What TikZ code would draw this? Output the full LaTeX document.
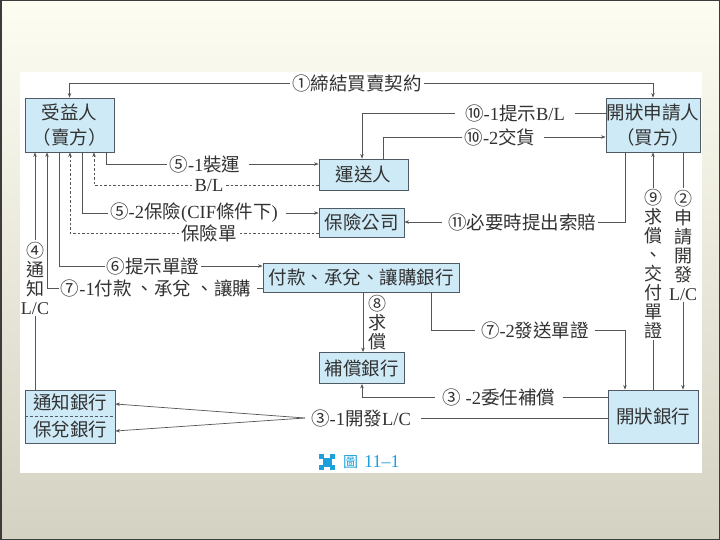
\documentclass[tikz,border=0pt]{standalone}
\usepackage{fontspec}
\setmainfont{Liberation Serif}
\newfontfamily\cjk{Noto Sans CJK TC}
\usetikzlibrary{arrows.meta}
\newcommand\latn[1]{{\rmfamily #1}}
\definecolor{boxfill}{RGB}{206,234,247}
\definecolor{boxline}{RGB}{80,90,100}
\definecolor{lin}{RGB}{85,85,85}
\definecolor{txt}{RGB}{50,50,50}
\definecolor{capblue}{RGB}{30,160,220}
\definecolor{bgtop}{RGB}{253,253,242}
\definecolor{bgmid}{RGB}{238,237,224}
\definecolor{bgbot}{RGB}{212,210,194}
\definecolor{framecol}{RGB}{60,60,60}
\tikzset{
  box/.style={draw=boxline, fill=boxfill, line width=0.8pt, inner sep=0pt, align=center,
    text=txt, font=\cjk\fontsize{18.5}{25}\selectfont},
  lab/.style={inner sep=2pt, text=txt, font=\cjk\fontsize{18.5}{20}\selectfont},
  vlab/.style={inner sep=1.5pt, align=center, text=txt, font=\cjk\fontsize{18}{19}\selectfont},
  conn/.style={draw=lin, line width=0.7pt},
  arr/.style={conn, -{Stealth[length=4.5pt,width=3.5pt]}},
  dsh/.style={dash pattern=on 2.5pt off 2pt},
}
\begin{document}
\begin{tikzpicture}[x=1pt,y=-1pt]
\useasboundingbox (0,0) rectangle (720,540);
\shade[top color=bgtop, middle color=bgmid, bottom color=bgbot] (0,0) rectangle (720,540);
\draw[framecol, line width=1.5pt] (0.75,0.75) rectangle (719.25,539.25);
\fill[white] (20,72) rectangle (702,473);

% boxes
\node[box, minimum width=89pt, minimum height=54pt] (ben) at (69.5,125) {受益人\\（賣方）};
\node[box, minimum width=94pt, minimum height=54pt] (app) at (653,125) {開狀申請人\\（買方）};
\node[box, minimum width=89pt, minimum height=31pt] (car) at (363.5,174.5) {運送人};
\node[box, minimum width=85pt, minimum height=29pt] (ins) at (361.5,222.5) {保險公司};
\node[box, minimum width=196pt, minimum height=29pt] (pay) at (361,277.5) {付款、承兌、讓購銀行};
\node[box, minimum width=85pt, minimum height=31pt] (reim) at (361.5,368) {補償銀行};
\node[box, minimum width=90pt, minimum height=53pt, font=\cjk\fontsize{18.5}{27}\selectfont] (adv) at (70,416.5) {通知銀行\\保兌銀行};
\node[box, minimum width=90pt, minimum height=53pt] (iss) at (653,416.5) {開狀銀行};
\draw[boxline, line width=0.5pt, dash pattern=on 3pt off 2pt] (adv.west) -- (adv.east);

% 1
\node[lab] (l1) at (357,83) {①締結買賣契約};
\draw[arr] (l1.west) -| (ben.north);
\draw[arr] (l1.east) -| (app.north);

% 10-1, 10-2
\node[lab] (l101) at (515,113) {⑩\latn{-1}提示\latn{B/L}};
\draw[conn] (app.west |- l101) -- ([xshift=8pt]l101.east);
\draw[arr] ([xshift=-8pt]l101.west) -| ([xshift=-1.5pt]car.north);
\node[lab] (l102) at (500,137) {⑩\latn{-2}交貨};
\draw[conn] ([xshift=19.5pt]car.north) |- (l102.west);
\draw[arr] ([xshift=6pt]l102.east) -- (app.west |- l102);

% 5-1 and B/L
\node[lab] (l51) at (205,164) {⑤\latn{-1}裝運};
\draw[conn] ([xshift=36.5pt]ben.south) |- (l51.west);
\draw[arr] ([xshift=6pt]l51.east) -- (car.west |- l51);
\node[lab] (lbl) at (209,185) {\latn{B/L}};
\draw[conn,dsh] (car.west |- lbl) -- (lbl.east);
\draw[arr,dsh] (lbl.west) -| ([xshift=24.5pt]ben.south);

% 5-2 and policy
\node[lab] (l52) at (194,213) {⑤\latn{-2}保險\latn{(CIF}條件下\latn{)}};
\draw[conn] ([xshift=12.5pt]ben.south) |- (l52.west);
\draw[arr] ([xshift=6pt]l52.east) -- (ins.west |- l52);
\node[lab] (lpol) at (209,233) {保險單};
\draw[conn,dsh] (ins.west |- lpol) -- (lpol.east);
\draw[arr,dsh] (lpol.west) -| ([xshift=0.5pt]ben.south);

% 6 and 7-1
\node[lab] (l6) at (153,266) {⑥提示單證};
\draw[conn] ([xshift=-10.5pt]ben.south) |- (l6.west);
\draw[arr] (l6.east) -- (pay.west |- l6);
\node[lab] (l71) at (156,288) {⑦\latn{-1}付款 、承兌 、讓購};
\draw[conn] (pay.west |- l71) -- ([xshift=4pt]l71.east);
\draw[arr] (l71.west) -| ([xshift=-22.5pt]ben.south);

% 4
\node[vlab] (l4) at (35,278) {④\\通\\知\\\latn{L/C}};
\draw[conn] (adv.north -| l4) -- (l4.south);
\draw[arr] (l4.north) -- (ben.south -| l4);

% 11
\node[lab] (l11) at (522,222) {⑪必要時提出索賠};
\draw[conn] ([xshift=-28pt]app.south) |- (l11.east);
\draw[arr] ([xshift=-4pt]l11.west) -- (ins.east |- l11);

% 8
\node[vlab] (l8) at (377,323) {⑧\\求\\償};
\draw[arr] ([xshift=2pt]pay.south) -- ([xshift=2pt]pay.south |- reim.north);

% 7-2
\node[lab] (l72) at (535,330) {⑦\latn{-2}發送單證};
\draw[conn] ([xshift=70pt]pay.south) |- ([xshift=-4pt]l72.west);
\draw[arr] ([xshift=4pt]l72.east) -| ([xshift=-28pt]iss.north);

% 9 and 2
\node[vlab] (l9) at (653,264) {⑨\\求\\償\\、\\交\\付\\單\\證};
\draw[conn] (iss.north -| l9) -- (l9.south);
\draw[arr] (l9.north) -- (app.south -| l9);
\node[vlab] (l2) at (683,245) {②\\申\\請\\開\\發\\\latn{L/C}};
\draw[conn] (app.south -| l2) -- (l2.north);
\draw[arr] (l2.south) -- (iss.north -| l2);

% 3-2 and 3-1
\node[lab] (l32) at (499,397) {③ \latn{-2}委任補償};
\draw[conn] (iss.west |- l32) -- ([xshift=6pt]l32.east);
\draw[arr] ([xshift=-6pt]l32.west) -| ([xshift=0.5pt]reim.south);
\node[lab] (l31) at (361,418) {③\latn{-1}開發\latn{L/C}};
\draw[conn] (iss.west |- l31) -- ([xshift=8pt]l31.east);
\coordinate (fork) at ([xshift=-4pt]l31.west);
\draw[arr] (fork) -- ([yshift=12.5pt]adv.east);
\draw[arr] (fork) -- ([yshift=-14.5pt]adv.east);

% caption
\fill[capblue] (319,454) rectangle (324,459);
\fill[capblue] (330,454) rectangle (335,459);
\fill[capblue] (319,465) rectangle (324,470);
\fill[capblue] (330,465) rectangle (335,470);
\fill[capblue] (322.5,457.5) rectangle (331.5,466.5);
\node[inner sep=0pt, text=capblue, font=\cjk\fontsize{15}{15}\selectfont, anchor=west] (cap) at (343,462) {圖\hspace{6pt}{\rmfamily\fontsize{18}{18}\selectfont 11–1}};
\end{tikzpicture}
\end{document}
